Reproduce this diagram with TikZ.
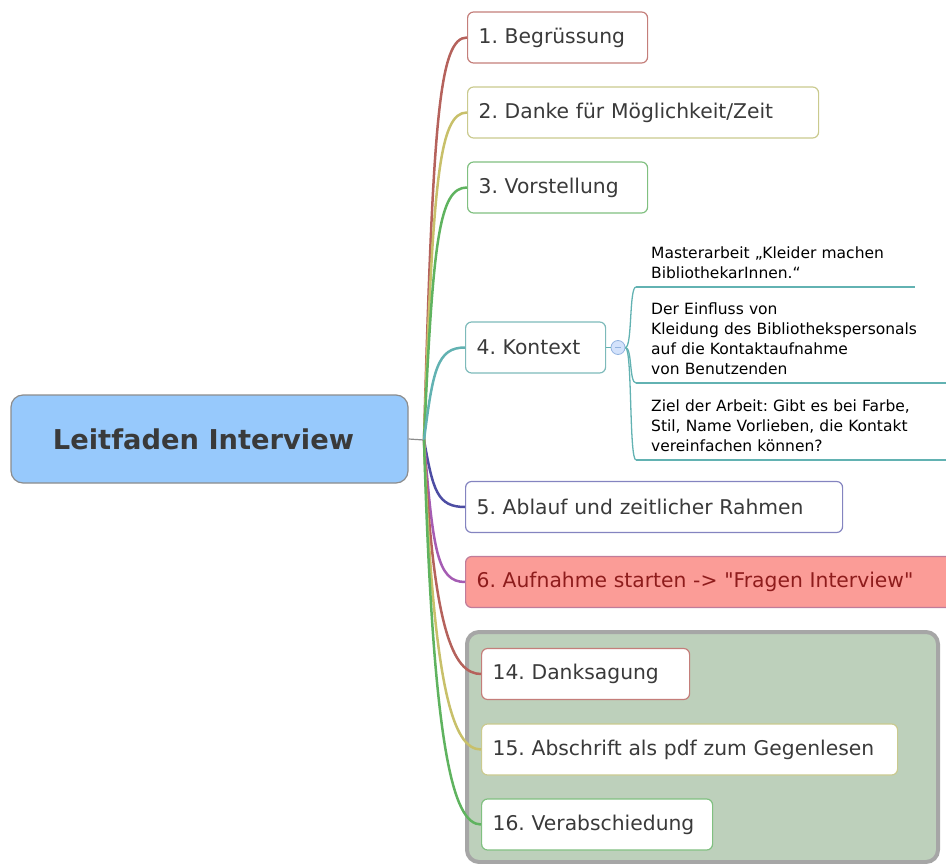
\documentclass[tikz,border=0pt]{standalone}
\usepackage{fontspec}
\setmainfont{DejaVu Sans}
\usepackage{xcolor}
\usetikzlibrary{positioning}
\frenchspacing

\definecolor{txtGray}{HTML}{3A3A3A}
\definecolor{rootBlue}{HTML}{97C9FC}
\definecolor{rootLine}{HTML}{8C8C8C}
\definecolor{brRed}{HTML}{B5625C}
\definecolor{brOlive}{HTML}{C8C06A}
\definecolor{brGreen}{HTML}{5FB35F}
\definecolor{brTeal}{HTML}{62B2B2}
\definecolor{brBlue}{HTML}{4D4DA3}
\definecolor{brPurple}{HTML}{A55CB3}
\definecolor{bdRed}{HTML}{C47E7A}
\definecolor{bdOlive}{HTML}{CACA8E}
\definecolor{bdGreen}{HTML}{80C080}
\definecolor{bdTeal}{HTML}{7DBABA}
\definecolor{bdBlue}{HTML}{8484C0}
\definecolor{startFill}{HTML}{FB9C97}
\definecolor{startLine}{HTML}{C07C9A}
\definecolor{startText}{HTML}{8E1C1C}
\definecolor{groupFill}{HTML}{BDD0BB}
\definecolor{groupLine}{HTML}{A6A6A6}
\definecolor{foldFill}{HTML}{D3E2FB}
\definecolor{foldLine}{HTML}{93B3E0}

\begin{document}
\begin{tikzpicture}[x=1pt,y=-1pt]
  \tikzset{root/.style = {draw=rootLine, fill=rootBlue, rounded corners=12pt, line width=1.2pt, minimum width=397pt, minimum height=88pt, text=txtGray, font=\fontsize{27.3}{32}\selectfont\bfseries}}
  \tikzset{topic/.style = {draw, rounded corners=6pt, fill=white, line width=1.2pt, minimum height=51pt, inner xsep=11pt, anchor=west, align=left, text=txtGray, font=\fontsize{20.3}{24}\selectfont}}
  \tikzset{sub/.style = {anchor=south west, inner xsep=15pt, inner ysep=8pt, align=left, text=black, font=\fontsize{15.5}{20}\selectfont}}
  \tikzset{branch/.style = {line width=2.5pt}}
  \tikzset{subline/.style = {draw=brTeal, line width=1.3pt}}
  \tikzset{group/.style = {draw=groupLine, fill=groupFill, rounded corners=12pt, line width=4pt, minimum width=471pt, minimum height=230pt}}
  \tikzset{fold/.style = {shape=circle, draw=foldLine, fill=foldFill, line width=0.8pt, minimum size=14pt, inner sep=0pt}}

  \useasboundingbox (0,0) rectangle (946,864);

  % group of closing topics
  \node[group] (grp) at (702.5,747) {};

  \node[root] (root) at (209.5,439) {Leitfaden Interview\hspace*{12pt}};
  \coordinate (hub) at (424,440);

  \node[topic, draw=bdRed, text width=158pt] (n1) at (467,37.5) {1. Begrüssung};
  \node[topic, draw=bdOlive, text width=329pt] (n2) at (467,112.5) {2. Danke für Möglichkeit/Zeit};
  \node[topic, draw=bdGreen, text width=158pt] (n3) at (467,187.5) {3. Vorstellung};
  \node[topic, draw=bdTeal, text width=118pt] (n4) at (465,347.5) {4. Kontext};
  \node[topic, draw=bdBlue, text width=355pt] (n5) at (465,507) {5. Ablauf und zeitlicher Rahmen};
  \node[topic, draw=startLine, fill=startFill, text=startText, text width=470pt] (n6) at (465,582) {\addfontfeature{Ligatures=TeXOff}6. Aufnahme starten -> "Fragen Interview"};
  \node[topic, draw=bdRed, text width=186pt] (n14) at (481,674) {14. Danksagung};
  \node[topic, draw=bdOlive, text width=394pt] (n15) at (481,749.5) {15. Abschrift als pdf zum Gegenlesen};
  \node[topic, draw=bdGreen, text width=209pt] (n16) at (481,824.5) {16. Verabschiedung};

  \node[fold] (fold) at (618,347.5) {};
  \draw[foldLine, line width=0.8pt] ([xshift=-3pt]fold.center) -- ([xshift=3pt]fold.center);

  \node[sub, text width=249pt] (s1) at (636,287) {Masterarbeit „Kleider machen\\BibliothekarInnen.“};
  \node[sub, text width=282pt] (s2) at (636,383) {Der Einfluss von\\Kleidung des Bibliothekspersonals\\auf die Kontaktaufnahme\\von Benutzenden};
  \node[sub, text width=282pt] (s3) at (636,460) {Ziel der Arbeit: Gibt es bei Farbe,\\Stil, Name Vorlieben, die Kontakt\\vereinfachen können?};

  \draw[rootLine, line width=1.2pt] (root.east) -- (hub);

  \foreach \to/\col/\d in {n1/brRed/-320, n2/brOlive/-260, n3/brGreen/-200, n4/brTeal/-70, n5/brBlue/50, n6/brPurple/110, n14/brRed/190, n15/brOlive/250, n16/brGreen/310}
    \draw[branch, \col] (hub) .. controls +(9,\d) and +(-28,0) .. (\to.west);

  \draw[brTeal, line width=1.3pt] (n4.east) -- (fold.west);
  \foreach \to in {s1, s2, s3}
  {
    \draw[brTeal, line width=1.3pt] (fold.east) .. controls +(7,0) and +(-7,0) .. (\to.south west);
    \draw[subline] (\to.south west) -- (\to.south east);
  }

\end{tikzpicture}
\end{document}
